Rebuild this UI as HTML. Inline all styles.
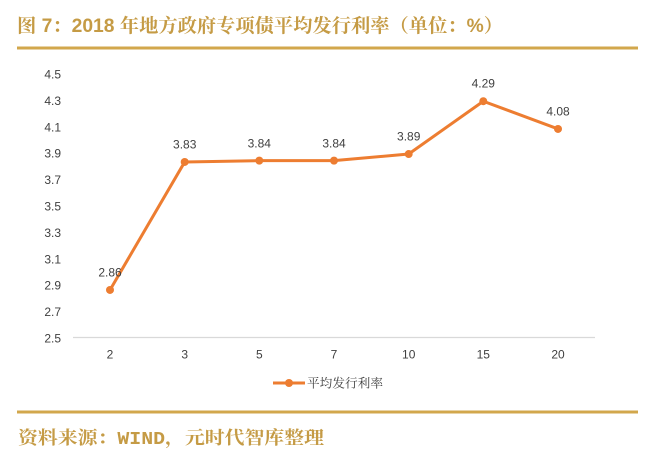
<!DOCTYPE html>
<html><head><meta charset="utf-8"><style>
html,body{margin:0;padding:0;background:#fff;}
svg{display:block;}
</style></head><body>
<svg width="664" height="465" viewBox="0 0 664 465" xmlns="http://www.w3.org/2000/svg">
<rect width="664" height="465" fill="#ffffff"/>
<text x="17" y="32" font-family="'Liberation Sans','Noto Serif CJK SC',serif" font-weight="bold" font-size="19" fill="#C59B45" textLength="486" lengthAdjust="spacingAndGlyphs">图 7：2018 年地方政府专项债平均发行利率（单位：%）</text>
<rect x="17" y="46.5" width="621" height="3" fill="#D2A74C"/>
<g font-family="'Liberation Sans','DejaVu Sans',sans-serif" font-size="12" fill="#404040" text-anchor="end">
<text x="61" y="78.5">4.5</text>
<text x="61" y="104.9">4.3</text>
<text x="61" y="131.3">4.1</text>
<text x="61" y="157.7">3.9</text>
<text x="61" y="184.1">3.7</text>
<text x="61" y="210.5">3.5</text>
<text x="61" y="236.9">3.3</text>
<text x="61" y="263.3">3.1</text>
<text x="61" y="289.7">2.9</text>
<text x="61" y="316.1">2.7</text>
<text x="61" y="342.5">2.5</text>
</g>
<line x1="73" y1="337.5" x2="595" y2="337.5" stroke="#D9D9D9" stroke-width="1.2"/>
<g font-family="'Liberation Sans','DejaVu Sans',sans-serif" font-size="12" fill="#404040" text-anchor="middle">
<text x="110" y="358.5">2</text>
<text x="184.7" y="358.5">3</text>
<text x="259.3" y="358.5">5</text>
<text x="334" y="358.5">7</text>
<text x="408.7" y="358.5">10</text>
<text x="483.3" y="358.5">15</text>
<text x="558" y="358.5">20</text>
</g>
<polyline fill="none" stroke="#ED7D31" stroke-width="3" stroke-linejoin="round" points="110,289.98 184.7,161.94 259.3,160.62 334,160.62 408.7,154.02 483.3,101.22 558,128.94"/>
<g fill="#ED7D31">
<circle cx="110" cy="289.98" r="4"/>
<circle cx="184.7" cy="161.94" r="4"/>
<circle cx="259.3" cy="160.62" r="4"/>
<circle cx="334" cy="160.62" r="4"/>
<circle cx="408.7" cy="154.02" r="4"/>
<circle cx="483.3" cy="101.22" r="4"/>
<circle cx="558" cy="128.94" r="4"/>
</g>
<g font-family="'Liberation Sans','DejaVu Sans',sans-serif" font-size="12" fill="#404040" text-anchor="middle">
<text x="110" y="276.5">2.86</text>
<text x="184.7" y="148.5">3.83</text>
<text x="259.3" y="147.5">3.84</text>
<text x="334" y="147.5">3.84</text>
<text x="408.7" y="140.5">3.89</text>
<text x="483.3" y="87.5">4.29</text>
<text x="558" y="115.5">4.08</text>
</g>
<line x1="273" y1="383" x2="305" y2="383" stroke="#ED7D31" stroke-width="3"/>
<circle cx="289" cy="383" r="4" fill="#ED7D31"/>
<text x="307" y="387.5" font-family="'Liberation Serif','Noto Serif CJK SC',serif" font-size="12.5" fill="#404040" textLength="76" lengthAdjust="spacingAndGlyphs">平均发行利率</text>
<rect x="17" y="410.5" width="621" height="3" fill="#D2A74C"/>
<text x="18" y="444" font-family="'Liberation Mono','Noto Serif CJK SC',serif" font-weight="bold" font-size="18" fill="#C59B45" textLength="306" lengthAdjust="spacingAndGlyphs">资料来源：WIND，元时代智库整理</text>
</svg>
</body></html>
